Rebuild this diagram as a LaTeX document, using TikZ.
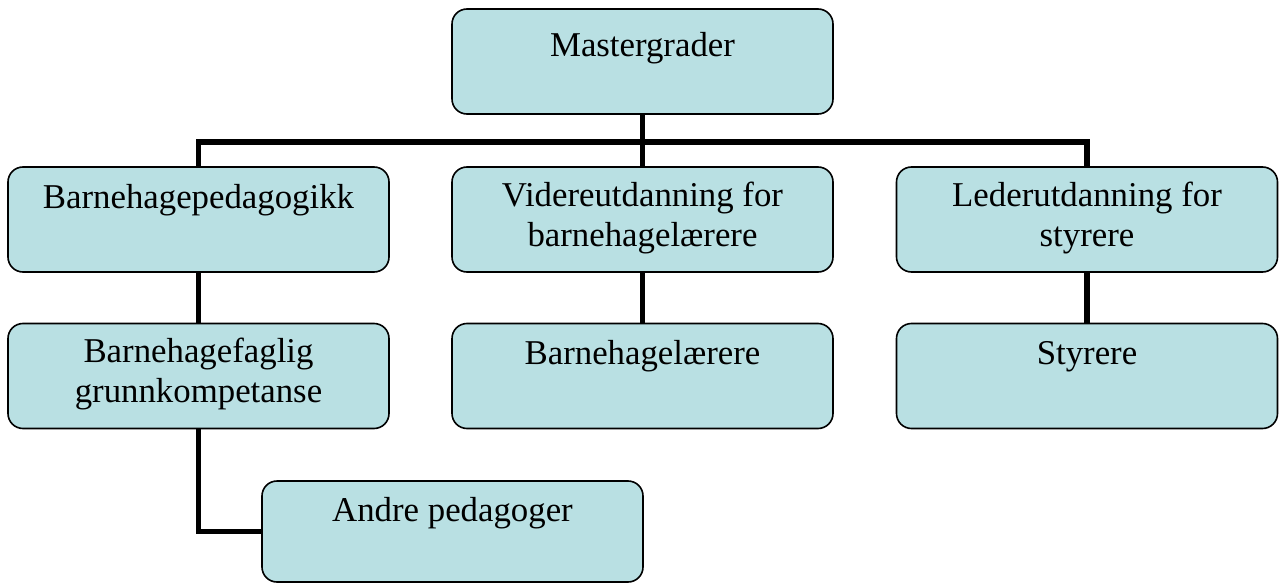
\documentclass[tikz,border=0pt]{standalone}
\usepackage{fontspec}
\setmainfont{Liberation Serif}
\definecolor{boxfill}{RGB}{185,224,227}
\tikzset{
  unit/.style={draw=black, line width=0.8pt, fill=boxfill, rounded corners=7.5pt,
    inner sep=0pt, minimum width=190.5pt, text width=188pt, align=flush center,
    text height=20.5pt, text depth=32pt, font=\fontsize{17.4}{20}\selectfont},
  twoline/.style={text height=19.5pt, text depth=33pt},
  link/.style={line width=2.6pt}
}

\begin{document}
\begin{tikzpicture}[x=0.5pt,y=-0.5pt]
  \useasboundingbox (0,0) rectangle (1280,583);
  % top
  \node[unit, text height=24pt, text depth=28.5pt] (master) at (642.5,61.5) {Mastergrader};
  % second row
  \node[unit] (pedag) at (198.5,219.5) {Barnehagepedagogikk};
  \node[unit, twoline] (vidut) at (642.5,219.5) {Videreutdanning for\\barnehagelærere};
  \node[unit, twoline] (ledut) at (1087,219.5) {Lederutdanning for\\styrere};
  % third row
  \node[unit, twoline] (faglig) at (198.5,376) {Barnehagefaglig\\grunnkompetanse};
  \node[unit] (bhlaer) at (642.5,376) {Barnehagelærere};
  \node[unit] (styr) at (1087,376) {Styrere};
  \node[unit, text height=20pt, text depth=30.5pt] (andre) at (452.5,531.5) {Andre pedagoger};
  % connectors
  \coordinate (bus) at (642.5,142);
  \draw[link] (master) -- (vidut);
  \draw[link] (pedag.north) |- (bus) -| (ledut.north);
  \draw[link] (pedag) -- (faglig);
  \draw[link] (vidut) -- (bhlaer);
  \draw[link] (ledut) -- (styr);
  \draw[link] (faglig.south) |- (andre.west);
\end{tikzpicture}
\end{document}
